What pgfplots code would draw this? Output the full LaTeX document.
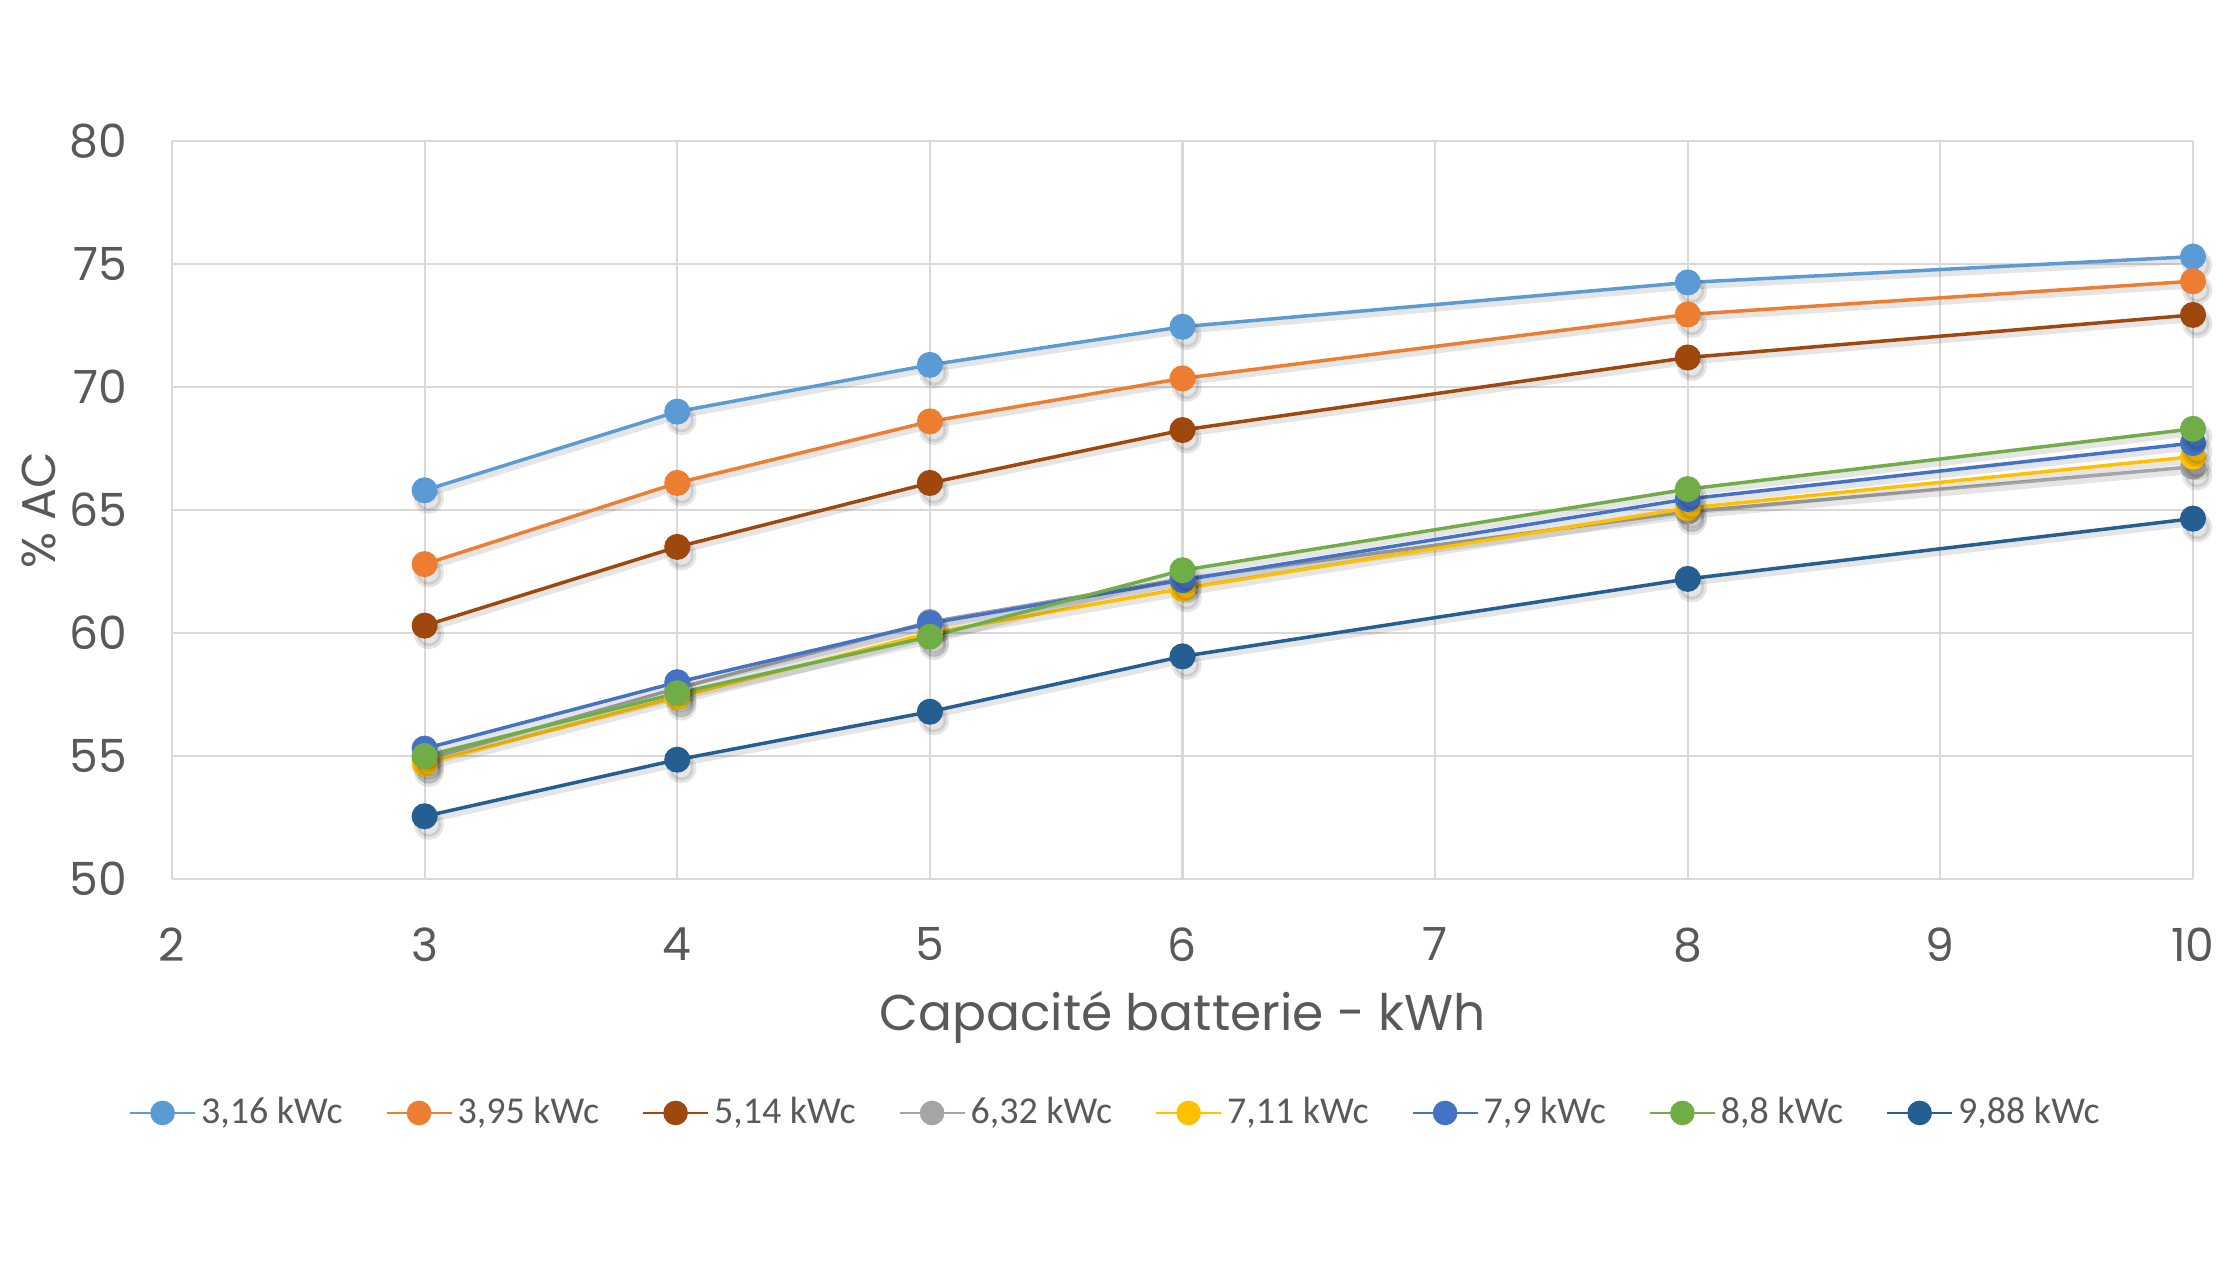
\documentclass[border=0pt]{standalone}
\usepackage{pgfplots}
\usepackage{pgfplotstable}
\usepackage{fontspec}
\pgfplotsset{compat=1.18}
\setmainfont{Poppins}
\newfontfamily\carlito{Carlito}
\definecolor{txt}{HTML}{595959}
\definecolor{grd}{HTML}{D9D9D9}
\definecolor{cA}{HTML}{5B9BD5}
\definecolor{cB}{HTML}{ED7D31}
\definecolor{cC}{HTML}{9E480E}
\definecolor{cD}{HTML}{A5A5A5}
\definecolor{cE}{HTML}{FFC000}
\definecolor{cF}{HTML}{4472C4}
\definecolor{cG}{HTML}{70AD47}
\definecolor{cH}{HTML}{255E91}
\pgfplotstableread{
x  a     b     c     d     e     f     g     h
3  65.8  62.8  60.3  54.85 54.7  55.3  55.0  52.55
4  69.0  66.1  63.5  57.75 57.4  58.0  57.55 54.85
5  70.9  68.6  66.1  60.45 60.0  60.4  59.85 56.8
6  72.45 70.35 68.25 62.2  61.8  62.15 62.55 59.05
8  74.25 72.95 71.2  64.93 65.08 65.45 65.85 62.2
10 75.3  74.3  72.93 66.76 67.17 67.72 68.3  64.65
}\data
\newcommand{\series}[3]{%
\addplot[forget plot, draw=black, opacity=0.10, line width=1.6pt, mark=*, mark size=3.5pt, mark options={fill=black, draw=none}, transform canvas={xshift=0.6pt, yshift=-1.2pt}] table[x=x, y=#1] {\data};
\addplot[color=#2, line width=1pt, mark=*, mark size=3.2pt, mark options={fill=#2, draw=#2, solid}] table[x=x, y=#1] {\data};
\addlegendentry{#3}
}
\begin{document}
\begin{tikzpicture}
\path[use as bounding box] (0,0) rectangle (22.4cm,12.6cm);
\begin{axis}[
  at={(1.72cm,3.81cm)}, anchor=south west,
  scale only axis, width=20.21cm, height=7.38cm,
  xmin=2, xmax=10, ymin=50, ymax=80,
  xtick={2,3,...,10}, ytick={50,55,...,80},
  axis line style={draw=none},
  major tick length=0pt,
  grid=major, major grid style={grd, line width=0.6pt},
  tick label style={font=\fontsize{13}{16}\selectfont, text=txt, inner sep=0pt},
  yticklabel style={anchor=east, xshift=-0.44cm},
  xticklabel style={anchor=north, yshift=-0.48cm},
  /pgf/number format/assume math mode=true,
  xlabel={Capacité batterie - kWh},
  ylabel={\% AC},
  every axis x label/.style={at={(axis description cs:0.5,-0.205)}, anchor=base, font=\fontsize{14.3}{17}\selectfont, text=txt},
  every axis y label/.style={at={(axis description cs:-0.066,0.5)}, rotate=90, anchor=center, font=\fontsize{13.5}{16}\selectfont, text=txt},
  legend columns=-1,
  legend style={at={(axis description cs:0.4675,-0.317)}, anchor=center, draw=none, fill=none,
    font=\carlito\fontsize{10.8}{12}\selectfont, text=txt,
    /tikz/every even column/.append style={column sep=0.38cm},
    nodes={inner sep=0.05cm}},
  legend image code/.code={\draw[mark repeat=2, mark phase=2, #1, line width=0.6pt] plot coordinates {(0cm,0cm)(0.325cm,0cm)(0.65cm,0cm)};},
  clip=false,
]
\series{a}{cA}{3,16 kWc}
\series{b}{cB}{3,95 kWc}
\series{c}{cC}{5,14 kWc}
\series{d}{cD}{6,32 kWc}
\series{e}{cE}{7,11 kWc}
\series{f}{cF}{7,9 kWc}
\series{g}{cG}{8,8 kWc}
\series{h}{cH}{9,88 kWc}
\end{axis}
\end{tikzpicture}
\end{document}
